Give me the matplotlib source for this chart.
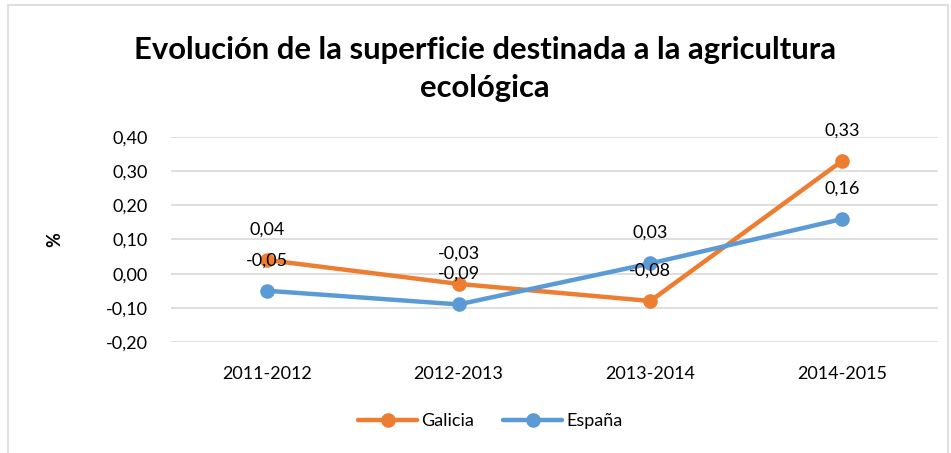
import matplotlib
matplotlib.use("Agg")
import matplotlib.pyplot as plt
from matplotlib.patches import Rectangle

categories = ["2011-2012", "2012-2013", "2013-2014", "2014-2015"]
galicia = [0.04, -0.03, -0.08, 0.33]
espana = [-0.05, -0.09, 0.03, 0.16]
yticks = [-0.20, -0.10, 0.00, 0.10, 0.20, 0.30, 0.40]

plt.rcParams['font.family'] = ['Lato', 'DejaVu Sans']

fig = plt.figure(figsize=(9.51, 4.53), dpi=100)
fig.patches.append(Rectangle((8/951, -0.01), (948-8)/951, 1 - 5/453 + 0.01,
                             transform=fig.transFigure, fill=False,
                             edgecolor='#D9D9D9', linewidth=1.2))
ax = fig.add_axes([171/951, 1-342/453, (938-171)/951, (342-137)/453])

x = list(range(len(categories)))
orange = '#ED7D31'
blue = '#5B9BD5'
ax.plot(x, galicia, color=orange, lw=3.2, marker='o', ms=9.5, label='Galicia', zorder=3, solid_capstyle='round')
ax.plot(x, espana, color=blue, lw=3.2, marker='o', ms=9.5, label='España', zorder=3, solid_capstyle='round')

def fmt(v):
    return f"{v:.2f}".replace('.', ',')

for xs, ys in [(x, galicia), (x, espana)]:
    for xi, yi in zip(xs, ys):
        ax.annotate(fmt(yi), (xi, yi), xytext=(0, 22), textcoords='offset points',
                    ha='center', va='center', fontsize=13, color='#000000', zorder=5)

ax.set_xlim(-0.5, len(categories) - 0.5)
ax.set_ylim(-0.2, 0.4)
ax.set_yticks(yticks)
ax.set_yticklabels([fmt(v) for v in yticks], fontsize=13)
ax.set_xticks(x)
ax.set_xticklabels(categories, fontsize=13)
ax.tick_params(axis='y', length=0, pad=16.5)
ax.tick_params(axis='x', length=0, pad=17)
ax.grid(axis='y', color='#D9D9D9', lw=1.2)
ax.set_axisbelow(True)
for s in ax.spines.values():
    s.set_visible(False)

fig.text(55/951, 1-240/453, '%', rotation=90, ha='center', va='center', fontsize=13, fontweight='bold')
fig.text(485/951, 1-69/453, 'Evolución de la superficie destinada a la agricultura\necológica',
         ha='center', va='center', fontsize=22.3, fontweight='bold', linespacing=1.45)

leg = fig.legend(loc='center', bbox_to_anchor=(490/951, 1-421/453), ncol=2, frameon=False,
                 fontsize=13, handlelength=3.3, columnspacing=1.6, handletextpad=0.2)

fig.savefig('out.png', dpi=100)
